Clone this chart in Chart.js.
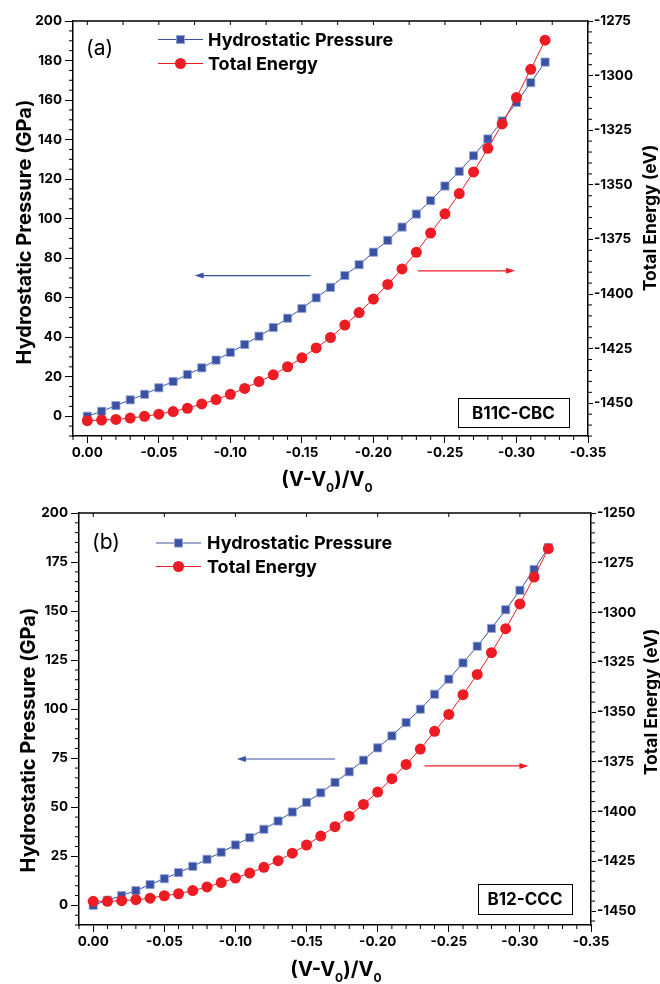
<!DOCTYPE html>
<html lang="en">
<head>
<meta charset="UTF-8" />
<title>Hydrostatic pressure and total energy vs (V-V0)/V0</title>
<script src="https://cdn.jsdelivr.net/npm/chart.js"></script>
<style>
  * { margin: 0; padding: 0; box-sizing: border-box; }
  body { background: #fff; width: 660px; height: 984px; overflow: hidden; }
  canvas { display: block; }
</style>
</head>
<body>
<canvas id="chartA" width="660" height="492"></canvas>
<canvas id="chartB" width="660" height="492"></canvas>

<script>
// (V-V0)/V0 values shared by both panels
const strain = [0, -0.01, -0.02, -0.03, -0.04, -0.05, -0.06, -0.07, -0.08, -0.09, -0.10,
  -0.11, -0.12, -0.13, -0.14, -0.15, -0.16, -0.17, -0.18, -0.19, -0.20,
  -0.21, -0.22, -0.23, -0.24, -0.25, -0.26, -0.27, -0.28, -0.29, -0.30, -0.31, -0.32];

// panel (a) B11C-CBC
const pressureA = [0, 2.5, 5.4, 8.3, 11.1, 14.4, 17.6, 21.1, 24.5, 28.4, 32.3,
  36.3, 40.5, 44.9, 49.6, 54.5, 59.9, 65.2, 71.2, 76.7, 83.0,
  89.0, 95.7, 102.3, 109.1, 116.5, 123.9, 131.8, 140.3, 149.4, 158.8, 168.8, 179.2];
const energyA = [-1458.0, -1457.7, -1457.4, -1456.8, -1456.0, -1455.0, -1453.8, -1452.3, -1450.3, -1448.3, -1445.9,
  -1443.2, -1440.1, -1437.0, -1433.3, -1429.2, -1424.7, -1419.9, -1414.2, -1408.5, -1402.3,
  -1395.6, -1388.5, -1380.9, -1372.1, -1363.3, -1354.0, -1344.1, -1333.3, -1322.1, -1310.0, -1297.1, -1283.8];

// panel (b) B12-CCC
const pressureB = [0, 2.6, 5.0, 7.5, 10.6, 13.6, 16.7, 19.9, 23.5, 27.1, 30.8,
  34.5, 38.8, 43.0, 47.6, 52.5, 57.4, 62.7, 68.1, 74.0, 80.3,
  86.4, 93.2, 100.0, 107.6, 115.3, 123.6, 132.1, 141.2, 150.7, 160.6, 171.2, 182.4];
const energyB = [-1445.1, -1445.1, -1444.8, -1444.3, -1443.5, -1442.3, -1441.3, -1439.7, -1437.9, -1435.7, -1433.4,
  -1430.9, -1428.0, -1424.7, -1420.9, -1416.8, -1412.3, -1407.6, -1402.3, -1396.4, -1390.2,
  -1383.5, -1376.3, -1368.6, -1359.7, -1351.2, -1341.3, -1331.1, -1320.2, -1308.1, -1295.7, -1282.2, -1267.9];

// tick labels
const xTicks = [0, -0.05, -0.10, -0.15, -0.20, -0.25, -0.30, -0.35];
const pTicksA = [0, 20, 40, 60, 80, 100, 120, 140, 160, 180, 200];
const eTicksA = [-1450, -1425, -1400, -1375, -1350, -1325, -1300, -1275];
const pTicksB = [0, 25, 50, 75, 100, 125, 150, 175, 200];
const eTicksB = [-1450, -1425, -1400, -1375, -1350, -1325, -1300, -1275, -1250];

const BLUE = '#3a52a3';
const RED = '#ed1c24';
const FONT = 'Inter, "Liberation Sans", Arial, sans-serif';

Chart.defaults.font.family = FONT;
Chart.defaults.color = '#000';

// minor tick values between majors (axis decoration only)
function minors(lo, hi, step, major, scale) {
  const out = [];
  for (let i = Math.ceil(lo / step); i * step <= hi; i++) {
    const v = i * step;
    if (Math.abs(v / major - Math.round(v / major)) > 1e-6) out.push(v / scale);
  }
  return out;
}
function steps(lo, hi, step, scale) {
  const out = [];
  for (let i = Math.ceil(lo / step); i * step <= hi; i++) out.push(i * step / scale);
  return out;
}

const decor = {
  id: 'decor',
  afterDraw(chart, args, o) {
    const ctx = chart.ctx, a = chart.chartArea;
    const sx = chart.scales.x, sy = chart.scales.y, sy2 = chart.scales.y2;
    ctx.save();

    // top frame + ticks
    ctx.strokeStyle = '#000';
    ctx.lineWidth = 1.5;
    ctx.beginPath();
    ctx.moveTo(a.left, a.top); ctx.lineTo(a.right, a.top);
    ctx.stroke();

    ctx.lineWidth = 1;
    ctx.beginPath();
    o.xTop.forEach(v => { const p = sx.getPixelForValue(v); ctx.moveTo(p, a.top); ctx.lineTo(p, a.top + 4); });
    o.xMinor.forEach(v => { const p = sx.getPixelForValue(v); ctx.moveTo(p, a.bottom); ctx.lineTo(p, a.bottom + 4); });
    o.yMinor.forEach(v => { const p = sy.getPixelForValue(v); ctx.moveTo(a.left - 4, p); ctx.lineTo(a.left, p); });
    o.y2Minor.forEach(v => { const p = sy2.getPixelForValue(v); ctx.moveTo(a.right, p); ctx.lineTo(a.right + 4, p); });
    ctx.stroke();

    // arrows pointing to the axis of each curve
    o.arrows.forEach(ar => {
      const scale = chart.scales[ar.axis];
      const py = scale.getPixelForValue(ar.y);
      const x0 = sx.getPixelForValue(ar.from), x1 = sx.getPixelForValue(ar.to);
      const dir = Math.sign(x1 - x0);
      ctx.strokeStyle = ar.color; ctx.fillStyle = ar.color; ctx.lineWidth = 1.2;
      ctx.beginPath(); ctx.moveTo(x0, py); ctx.lineTo(x1 - dir * 6, py); ctx.stroke();
      ctx.beginPath();
      ctx.moveTo(x1, py); ctx.lineTo(x1 - dir * 9, py - 3); ctx.lineTo(x1 - dir * 9, py + 3);
      ctx.closePath(); ctx.fill();
    });

    // legend: line with marker
    const L = o.legend;
    chart.data.datasets.forEach((ds, i) => {
      const y = L.rows[i];
      ctx.strokeStyle = ds.borderColor; ctx.lineWidth = 1;
      ctx.beginPath(); ctx.moveTo(L.x0, y); ctx.lineTo(L.x1, y); ctx.stroke();
      const cx = (L.x0 + L.x1) / 2;
      ctx.fillStyle = ds.backgroundColor;
      if (ds.pointStyle === 'rect') {
        const s = ds.pointRadius * Math.SQRT1_2;
        ctx.fillRect(cx - s, y - s, 2 * s, 2 * s);
        ctx.strokeStyle = ds.pointBorderColor; ctx.lineWidth = ds.pointBorderWidth;
        ctx.strokeRect(cx - s, y - s, 2 * s, 2 * s);
      } else {
        ctx.beginPath(); ctx.arc(cx, y, ds.pointRadius, 0, Math.PI * 2); ctx.fill();
      }
      ctx.fillStyle = '#000';
      ctx.font = `bold ${L.size}px ${FONT}`;
      ctx.textAlign = 'left'; ctx.textBaseline = 'middle';
      ctx.fillText(ds.label, L.text, y + 1);
    });

    // panel letter
    ctx.fillStyle = '#000';
    ctx.font = `${o.panel.size}px ${FONT}`;
    ctx.textAlign = 'left'; ctx.textBaseline = 'middle';
    ctx.fillText(o.panel.text, o.panel.x, o.panel.y);

    // structure label box
    const b = o.box;
    ctx.lineWidth = 1; ctx.strokeStyle = '#000';
    ctx.fillStyle = '#fff';
    ctx.fillRect(b.x, b.y, b.w, b.h);
    ctx.strokeRect(b.x + 0.5, b.y + 0.5, b.w, b.h);
    ctx.fillStyle = '#000';
    ctx.font = `bold ${b.size}px ${FONT}`;
    ctx.textAlign = 'center';
    ctx.fillText(b.text, b.x + b.w / 2, b.y + b.h / 2 + 1);

    // axis titles, both read bottom to top
    const T = o.titles;
    ctx.textBaseline = 'middle'; ctx.textAlign = 'center';
    [[T.left, T.leftX, T.leftY, T.ySize], [T.right, T.rightX, T.rightY, T.y2Size]].forEach(([txt, x, y, size]) => {
      ctx.save();
      ctx.translate(x, y); ctx.rotate(-Math.PI / 2);
      ctx.font = `bold ${size}px ${FONT}`;
      ctx.fillText(txt, 0, 0);
      ctx.restore();
    });

    // x title with subscripts
    const main = `bold ${T.xSize}px ${FONT}`, sub = `bold ${Math.round(T.xSize * 0.62)}px ${FONT}`;
    let w = 0;
    T.xParts.forEach(p => { ctx.font = p[1] ? sub : main; w += ctx.measureText(p[0]).width; });
    let xx = T.xX - w / 2;
    ctx.textAlign = 'left'; ctx.textBaseline = 'alphabetic';
    T.xParts.forEach(p => {
      ctx.font = p[1] ? sub : main;
      ctx.fillText(p[0], xx, T.xBase + (p[1] ? T.xSize * 0.28 : 0));
      xx += ctx.measureText(p[0]).width;
    });

    ctx.restore();
  }
};

function axisY(pos, min, max, ticks, width, tickLen, pad) {
  return {
    type: 'linear', position: pos, min, max,
    afterBuildTicks: s => { s.ticks = ticks.map(v => ({ value: v })); },
    afterFit: s => { s.width = width; },
    ticks: { callback: v => String(v), padding: pad, font: { size: 13.5, weight: 'bold' }, color: '#000' },
    grid: { drawOnChartArea: false, tickLength: tickLen, color: '#000', lineWidth: 1 },
    border: { color: '#000', width: 1.5 }
  };
}

function makeChart(id, pressure, energy, c) {
  return new Chart(document.getElementById(id), {
    type: 'line',
    data: {
      datasets: [
        {
          label: 'Hydrostatic Pressure',
          data: strain.map((s, i) => ({ x: s, y: pressure[i] })),
          yAxisID: 'y', order: 1,
          borderColor: BLUE, backgroundColor: BLUE, borderWidth: 1,
          pointStyle: 'rect', pointRadius: 5.8, pointBorderColor: '#9aaad8', pointBorderWidth: 0.8
        },
        {
          label: 'Total Energy',
          data: strain.map((s, i) => ({ x: s, y: energy[i] })),
          yAxisID: 'y2', order: 0,
          borderColor: RED, backgroundColor: RED, borderWidth: 1,
          pointStyle: 'circle', pointRadius: 5.5, pointBorderWidth: 0, pointBorderColor: RED
        }
      ]
    },
    options: {
      responsive: false,
      animation: false,
      layout: { padding: { top: 21, left: 0, right: 0, bottom: 0 } },
      plugins: { legend: { display: false }, tooltip: { enabled: false }, decor: c.decor },
      scales: {
        x: {
          type: 'linear', reverse: true, min: -0.35, max: 0.01,
          afterBuildTicks: s => { s.ticks = xTicks.map(v => ({ value: v })); },
          afterFit: s => { s.height = c.xH; },
          ticks: { callback: v => v.toFixed(2), padding: 2, maxRotation: 0, autoSkip: false,
                   font: { size: 13.5, weight: 'bold' }, color: '#000' },
          grid: { drawOnChartArea: false, tickLength: 7, color: '#000', lineWidth: 1 },
          border: { color: '#000', width: 1.5 }
        },
        y: axisY('left', -10, 200, c.pTicks, c.yW, 8, 3),
        y2: axisY('right', c.eMin, c.eMax, c.eTicks, c.y2W, 5, 1)
      }
    },
    plugins: [decor]
  });
}

const xParts = [['(V-V', 0], ['0', 1], [')/V', 0], ['0', 1]];

makeChart('chartA', pressureA, energyA, {
  xH: 56, yW: 73, y2W: 72, eMin: -1465, eMax: -1275, pTicks: pTicksA, eTicks: eTicksA,
  decor: {
    xTop: steps(-350, 0, 25, 1000),
    xMinor: minors(-350, 10, 10, 50, 1000),
    yMinor: minors(-10, 200, 5, 20, 1),
    y2Minor: minors(-1465, -1275, 5, 25, 1),
    arrows: [
      { axis: 'y', y: 71.2, from: -0.156, to: -0.075, color: BLUE },
      { axis: 'y2', y: -1389.4, from: -0.231, to: -0.299, color: RED }
    ],
    legend: { x0: 158, x1: 203, text: 208, rows: [39.5, 63.5], size: 18 },
    panel: { text: '(a)', x: 86, y: 48.5, size: 21 },
    box: { text: 'B11C-CBC', x: 458, y: 398, w: 111, h: 29, size: 17 },
    titles: {
      left: 'Hydrostatic Pressure (GPa)', leftX: 25, leftY: 232,
      right: 'Total Energy (eV)', rightX: 651, rightY: 218,
      ySize: 20, y2Size: 17.5, xSize: 20, xParts, xX: 327, xBase: 486
    }
  }
});

makeChart('chartB', pressureB, energyB, {
  xH: 59, yW: 79, y2W: 69, eMin: -1457, eMax: -1250, pTicks: pTicksB, eTicks: eTicksB,
  decor: {
    xTop: steps(-350, 0, 50, 1000),
    xMinor: minors(-350, 10, 10, 50, 1000),
    yMinor: minors(-10, 200, 5, 25, 1),
    y2Minor: minors(-1457, -1250, 5, 25, 1),
    arrows: [
      { axis: 'y', y: 74.6, from: -0.170, to: -0.101, color: BLUE },
      { axis: 'y2', y: -1377.1, from: -0.233, to: -0.306, color: RED }
    ],
    legend: { x0: 156, x1: 201, text: 207, rows: [51, 74.5], size: 18 },
    panel: { text: '(b)', x: 92, y: 50.5, size: 21 },
    box: { text: 'B12-CCC', x: 478, y: 392, w: 94, h: 30, size: 17 },
    titles: {
      left: 'Hydrostatic Pressure (GPa)', leftX: 29, leftY: 248,
      right: 'Total Energy (eV)', rightX: 652, rightY: 210,
      ySize: 20, y2Size: 17.5, xSize: 20, xParts, xX: 336, xBase: 484
    }
  }
});
</script>
</body>
</html>
